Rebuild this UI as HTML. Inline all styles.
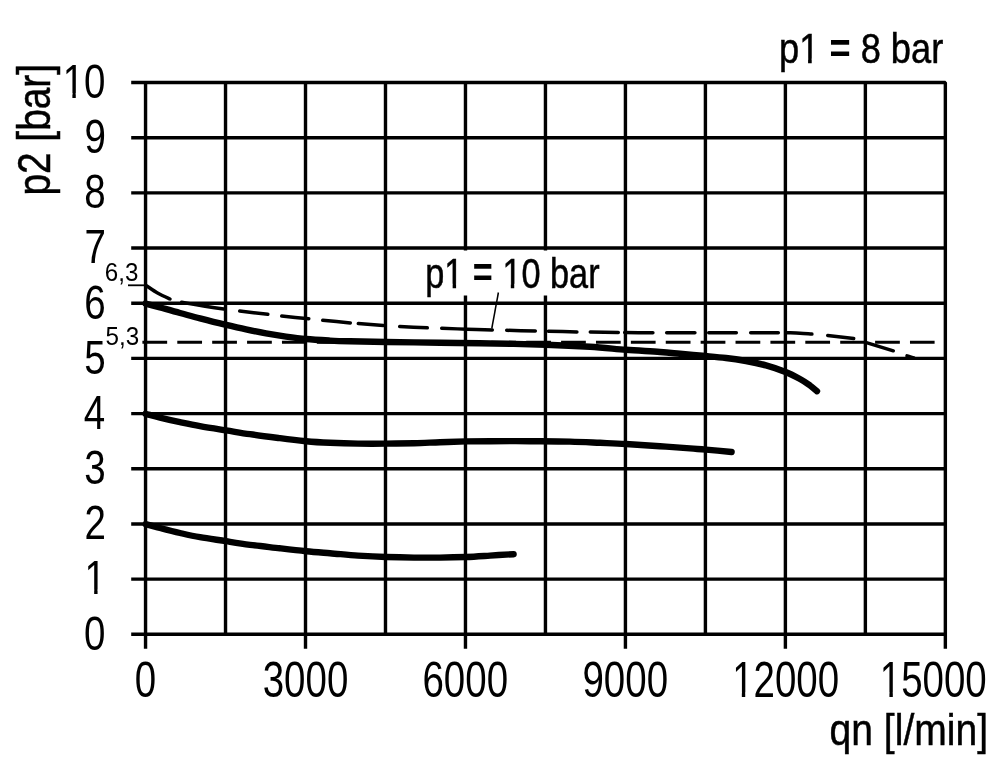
<!DOCTYPE html>
<html lang="en"><head><meta charset="utf-8"><title>Chart</title>
<style>html,body{margin:0;padding:0;background:#fff;}svg{display:block;will-change:transform;}</style>
</head><body>
<svg width="1000" height="764" viewBox="0 0 1000 764">
<rect width="1000" height="764" fill="#fff"/>
<g stroke="#000" stroke-width="3.40" fill="none"><line x1="145.55" y1="82.50" x2="145.55" y2="648.80"/><line x1="225.53" y1="82.50" x2="225.53" y2="634.30"/><line x1="305.51" y1="82.50" x2="305.51" y2="648.80"/><line x1="385.49" y1="82.50" x2="385.49" y2="634.30"/><line x1="465.47" y1="82.50" x2="465.47" y2="648.80"/><line x1="545.45" y1="82.50" x2="545.45" y2="634.30"/><line x1="625.43" y1="82.50" x2="625.43" y2="648.80"/><line x1="705.41" y1="82.50" x2="705.41" y2="634.30"/><line x1="785.39" y1="82.50" x2="785.39" y2="648.80"/><line x1="865.37" y1="82.50" x2="865.37" y2="634.30"/><line x1="131.2" y1="634.30" x2="945.35" y2="634.30"/><line x1="131.2" y1="579.12" x2="945.35" y2="579.12"/><line x1="131.2" y1="523.94" x2="945.35" y2="523.94"/><line x1="131.2" y1="468.76" x2="945.35" y2="468.76"/><line x1="131.2" y1="413.58" x2="945.35" y2="413.58"/><line x1="131.2" y1="358.40" x2="945.35" y2="358.40"/><line x1="131.2" y1="303.22" x2="945.35" y2="303.22"/><line x1="131.2" y1="248.04" x2="945.35" y2="248.04"/><line x1="131.2" y1="192.86" x2="945.35" y2="192.86"/><line x1="131.2" y1="137.68" x2="945.35" y2="137.68"/><path stroke-linejoin="bevel" d="M131.2,82.50 L945.35,82.50 L945.35,648.8"/></g>
<rect x="424" y="250.5" width="180" height="45" fill="#fff"/><g font-family="'Liberation Sans', sans-serif" fill="#000"><g transform="translate(425.17,288.40) scale(0.8242,1)"><text font-size="41.60" stroke="#000" stroke-width="0.5">p1 <tspan font-weight="bold" stroke="none" dy="-1.3">=</tspan><tspan dy="1.3"> 10 bar</tspan></text><rect x="24.38" y="-4.56" width="8.96" height="6.41" fill="#fff"/><rect x="37.52" y="-4.56" width="8.49" height="6.41" fill="#fff"/><rect x="94.93" y="-4.56" width="8.96" height="6.41" fill="#fff"/><rect x="108.07" y="-4.56" width="8.49" height="6.41" fill="#fff"/></g></g>
<line x1="142.4" y1="342.3" x2="934.6" y2="342.3" stroke="#000" stroke-width="3.0" stroke-dasharray="24.75 10.14"/>
<line x1="128" y1="285.3" x2="146" y2="285.3" stroke="#000" stroke-width="1.8"/>
<g stroke="#000" fill="none" stroke-linecap="round" stroke-width="3.5"><path d="M146.0,285.5C148.0,286.8 154.0,291.1 158.0,293.3C162.0,295.6 168.0,298.1 170.0,299.0"/><path d="M181.7,302.3C185.6,303.0 198.0,305.1 205.0,306.2C212.0,307.3 220.7,308.5 223.8,308.9"/><path d="M239.7,311.1C244.4,311.6 263.1,313.7 267.8,314.2"/><path d="M281.7,316.1C286.2,316.5 304.3,318.3 308.8,318.7"/><path d="M322.7,320.3C327.3,320.7 345.7,322.5 350.3,322.9"/><path d="M358.3,323.6C362.5,323.9 379.1,325.1 383.3,325.4"/><path d="M399.7,326.6C404.3,326.8 422.7,327.6 427.3,327.8"/><path d="M441.7,328.3C445.9,328.5 458.6,328.9 467.0,329.2C475.4,329.5 488.1,329.8 492.3,330.0"/><path d="M506.7,330.3C511.5,330.4 530.5,330.9 535.3,331.0"/><path d="M548.4,331.3C553.1,331.4 572.2,331.8 576.9,331.9"/><path d="M590.3,332.1C595.0,332.2 613.6,332.4 618.3,332.5"/><path d="M624.7,332.6C629.4,332.6 648.2,332.8 652.9,332.8"/><path d="M666.7,332.8C671.4,332.8 690.2,332.8 694.9,332.8"/><path d="M708.7,332.8C713.3,332.8 731.7,332.8 736.3,332.8"/><path d="M750.7,332.7C755.3,332.7 773.7,332.7 778.3,332.7"/><path d="M785.7,332.7C788.1,332.8 795.6,333.0 800.0,333.2C804.4,333.4 809.9,334.0 811.9,334.1"/><path d="M827.7,335.4C832.0,335.9 849.4,338.0 853.7,338.5"/><path d="M867.2,342.8C871.5,344.1 889.0,349.5 893.3,350.8"/><path d="M907.0,355.8C908.1,356.2 912.7,357.6 913.8,358.0"/></g>
<line x1="498.4" y1="292.5" x2="491.8" y2="328.5" stroke="#000" stroke-width="1.5"/>
<g stroke="#000" fill="none" stroke-linecap="round" stroke-linejoin="round" stroke-width="6.4"><path d="M145.6,303.6C148.0,304.2 154.3,305.8 160.0,307.4C165.7,309.0 173.3,311.2 180.0,313.0C186.7,314.8 192.7,316.5 200.0,318.4C207.3,320.3 216.3,322.6 224.0,324.4C231.7,326.2 239.0,327.9 246.0,329.4C253.0,330.9 259.3,332.2 266.0,333.4C272.7,334.6 279.3,335.7 286.0,336.6C292.7,337.5 298.7,338.3 306.0,339.0C313.3,339.7 322.7,340.2 330.0,340.6C337.3,341.0 340.7,341.1 350.0,341.3C359.3,341.5 371.0,341.8 386.0,342.0C401.0,342.2 424.3,342.6 440.0,342.8C455.7,343.0 462.3,342.9 480.0,343.2C497.7,343.5 527.7,344.2 546.0,344.8C564.3,345.4 576.7,346.0 590.0,346.8C603.3,347.6 614.3,348.9 626.0,349.8C637.7,350.7 651.0,351.3 660.0,352.0C669.0,352.7 672.4,353.1 680.0,353.8C687.6,354.5 697.9,355.3 705.6,356.0C713.3,356.7 719.3,357.2 726.0,358.0C732.7,358.8 739.3,359.8 746.0,361.0C752.7,362.2 759.4,363.6 766.0,365.4C772.6,367.2 779.9,369.7 785.6,372.0C791.3,374.3 795.9,376.8 800.0,379.0C804.1,381.2 807.2,383.5 810.0,385.5C812.8,387.5 815.8,390.2 817.0,391.2"/><path d="M145.6,413.8C148.0,414.4 154.3,416.2 160.0,417.6C165.7,419.0 173.3,420.8 180.0,422.2C186.7,423.6 192.3,424.8 200.0,426.2C207.7,427.6 217.7,429.1 226.0,430.4C234.3,431.7 241.0,432.9 250.0,434.2C259.0,435.5 270.7,437.0 280.0,438.2C289.3,439.4 297.7,440.4 306.0,441.2C314.3,442.0 321.3,442.4 330.0,442.8C338.7,443.2 348.7,443.5 358.0,443.6C367.3,443.7 376.7,443.7 386.0,443.6C395.3,443.5 405.0,443.4 414.0,443.2C423.0,443.0 431.3,442.5 440.0,442.2C448.7,441.9 457.7,441.6 466.0,441.4C474.3,441.2 479.3,441.2 490.0,441.2C500.7,441.2 516.7,441.1 530.0,441.2C543.3,441.3 558.3,441.3 570.0,441.6C581.7,441.9 590.7,442.4 600.0,442.8C609.3,443.2 616.0,443.4 626.0,444.0C636.0,444.6 649.3,445.5 660.0,446.2C670.7,446.9 682.3,447.8 690.0,448.4C697.7,449.0 699.1,449.0 706.0,449.6C712.9,450.2 727.3,451.6 731.6,452.0"/><path d="M145.6,524.2C148.0,524.8 154.3,526.5 160.0,528.0C165.7,529.5 173.3,531.5 180.0,533.0C186.7,534.5 192.3,535.8 200.0,537.2C207.7,538.6 217.7,539.9 226.0,541.2C234.3,542.5 241.0,543.6 250.0,544.8C259.0,546.0 270.7,547.2 280.0,548.3C289.3,549.4 297.7,550.4 306.0,551.2C314.3,552.0 321.3,552.5 330.0,553.2C338.7,553.9 348.7,555.0 358.0,555.6C367.3,556.2 376.7,556.7 386.0,557.0C395.3,557.3 405.0,557.5 414.0,557.6C423.0,557.7 431.3,557.7 440.0,557.6C448.7,557.5 457.7,557.3 466.0,557.0C474.3,556.7 482.1,556.1 490.0,555.6C497.9,555.1 509.7,554.4 513.6,554.2"/></g>
<g font-family="'Liberation Sans', sans-serif" fill="#000"><g transform="translate(84.10,649.60) scale(0.7988,1)"><text font-size="48.20">0</text></g><g transform="translate(84.48,594.42) scale(0.7988,1)"><text font-size="48.20">1</text><rect x="1.45" y="-4.80" width="10.68" height="6.40" fill="#fff"/><rect x="16.38" y="-4.80" width="10.13" height="6.40" fill="#fff"/></g><g transform="translate(84.52,539.24) scale(0.7988,1)"><text font-size="48.20">2</text></g><g transform="translate(84.29,484.06) scale(0.7988,1)"><text font-size="48.20">3</text></g><g transform="translate(83.71,428.88) scale(0.7988,1)"><text font-size="48.20">4</text></g><g transform="translate(84.21,373.70) scale(0.7988,1)"><text font-size="48.20">5</text></g><g transform="translate(84.29,318.52) scale(0.7988,1)"><text font-size="48.20">6</text></g><g transform="translate(84.52,263.34) scale(0.7988,1)"><text font-size="48.20">7</text></g><g transform="translate(84.25,208.16) scale(0.7988,1)"><text font-size="48.20">8</text></g><g transform="translate(84.40,152.98) scale(0.7988,1)"><text font-size="48.20">9</text></g><g transform="translate(62.69,97.80) scale(0.7988,1)"><text font-size="48.20">10</text><rect x="1.45" y="-4.80" width="10.68" height="6.40" fill="#fff"/><rect x="16.38" y="-4.80" width="10.13" height="6.40" fill="#fff"/></g><g transform="translate(134.85,697.40) scale(0.7825,1)"><text font-size="49.20">0</text></g><g transform="translate(262.72,697.40) scale(0.7825,1)"><text font-size="49.20">3000</text></g><g transform="translate(422.43,697.40) scale(0.7825,1)"><text font-size="49.20">6000</text></g><g transform="translate(582.46,697.40) scale(0.7825,1)"><text font-size="49.20">9000</text></g><g transform="translate(732.14,697.40) scale(0.7825,1)"><text font-size="49.20">12000</text><rect x="1.48" y="-4.88" width="10.90" height="6.48" fill="#fff"/><rect x="16.72" y="-4.88" width="10.34" height="6.48" fill="#fff"/></g><g transform="translate(879.73,697.40) scale(0.7825,1)"><text font-size="49.20">15000</text><rect x="1.48" y="-4.88" width="10.90" height="6.48" fill="#fff"/><rect x="16.72" y="-4.88" width="10.34" height="6.48" fill="#fff"/></g><g transform="translate(829.56,745.00) scale(0.8683,1)"><text font-size="45.00" stroke="#000" stroke-width="0.5">qn [l/min]</text></g><text transform="translate(50.40,195.62) rotate(-90) scale(0.8351,1)" font-size="46.50" stroke="#000" stroke-width="0.5">p2 [bar]</text><g transform="translate(779.04,63.20) scale(0.8710,1)"><text font-size="41.60" stroke="#000" stroke-width="0.5">p1 <tspan font-weight="bold" stroke="none" dy="-0.3">=</tspan><tspan dy="0.3"> 8 bar</tspan></text><rect x="24.38" y="-4.56" width="8.96" height="6.41" fill="#fff"/><rect x="37.52" y="-4.56" width="8.49" height="6.41" fill="#fff"/></g><g transform="translate(104.77,280.90) scale(0.9478,1)"><text font-size="25.50">6,3</text></g><g transform="translate(105.53,344.70) scale(0.9519,1)"><text font-size="25.50">5,3</text></g></g>
</svg>
</body></html>
